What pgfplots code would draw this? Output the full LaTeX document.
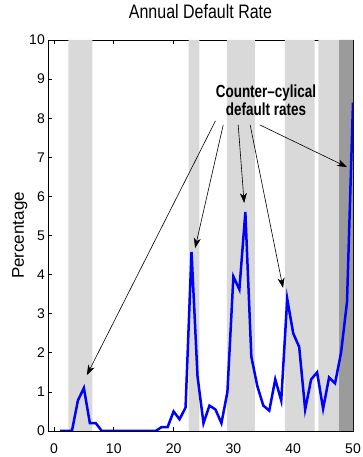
\documentclass[border=0pt]{standalone}
\usepackage{fontspec}
\setmainfont{Liberation Sans}
\newfontfamily\titlefont{Liberation Sans}[FakeStretch=0.82]
\newfontfamily\annfont{Liberation Sans}[FakeStretch=0.77]
\usepackage{pgfplots}
\pgfplotsset{compat=1.18}
\usetikzlibrary{arrows.meta}
\definecolor{lgray}{RGB}{217,217,217}
\definecolor{dgray}{RGB}{155,155,155}
\begin{document}
\begin{tikzpicture}
\useasboundingbox (-48bp,-26bp) rectangle (315bp,431bp);
\begin{axis}[
 at={(0,0)}, anchor=south west,
 scale only axis, width=305bp, height=391bp,
 xmin=-1, xmax=50, ymin=0, ymax=10,
 xtick={0,10,...,50}, ytick={0,1,...,10},
 tick align=inside, major tick length=4bp,
 axis line style={line width=0.8bp},
 every tick/.style={black, line width=0.6bp},
 tick label style={font=\fontsize{14bp}{16bp}\selectfont},
 /pgf/number format/assume math mode=true,
 yticklabel style={inner sep=0pt, xshift=-3bp},
 xticklabel style={anchor=base, inner sep=0pt, yshift=-22bp},
 title={Annual Default Rate},
 title style={font=\titlefont\fontsize{19.5bp}{22bp}\selectfont, at={(axis description cs:0.5,1.0409)}, anchor=base},
 ylabel={Percentage},
 ylabel style={font=\fontsize{17bp}{20bp}\selectfont, at={(axis description cs:-0.0787,0.5)}, anchor=base},
]
\addplot[fill=lgray, draw=none] coordinates {(2.4,0) (2.4,10) (6.4,10) (6.4,0)} \closedcycle;
\addplot[fill=lgray, draw=none] coordinates {(22.5,0) (22.5,10) (24.3,10) (24.3,0)} \closedcycle;
\addplot[fill=lgray, draw=none] coordinates {(28.9,0) (28.9,10) (33.6,10) (33.6,0)} \closedcycle;
\addplot[fill=lgray, draw=none] coordinates {(38.6,0) (38.6,10) (43.6,10) (43.6,0)} \closedcycle;
\addplot[fill=lgray, draw=none] coordinates {(44.2,0) (44.2,10) (47.7,10) (47.7,0)} \closedcycle;
\addplot[fill=dgray, draw=none] coordinates {(47.7,0) (47.7,10) (50,10) (50,0)} \closedcycle;
\addplot[blue, line width=2.5bp, mark=none] table {
x y
1 0
2 0
3 0
4 0.78
5 1.1
6 0.2
7 0.2
8 0
9 0
10 0
11 0
12 0
13 0
14 0
15 0
16 0
17 0
18 0.1
19 0.1
20 0.5
21 0.3
22 0.6
23 4.58
24 1.4
25 0.2
26 0.65
27 0.55
28 0.2
29 1.0
30 3.95
31 3.62
32 5.6
33 1.9
34 1.15
35 0.65
36 0.52
37 1.32
38 0.78
39 3.38
40 2.5
41 2.15
42 0.55
43 1.32
44 1.5
45 0.57
46 1.37
47 1.22
48 2.0
49 3.3
50 8.4
};
\draw[-{Stealth[length=10bp,width=7bp,inset=3bp]}, line width=0.6bp] (axis cs:27.0,7.93) -- (axis cs:5.5,1.43);
\draw[-{Stealth[length=10bp,width=7bp,inset=3bp]}, line width=0.6bp] (axis cs:28.3,7.83) -- (axis cs:23.6,4.68);
\draw[-{Stealth[length=10bp,width=7bp,inset=3bp]}, line width=0.6bp] (axis cs:30.8,7.83) -- (axis cs:31.8,5.83);
\draw[-{Stealth[length=10bp,width=7bp,inset=3bp]}, line width=0.6bp] (axis cs:32.8,7.83) -- (axis cs:38.3,3.66);
\draw[-{Stealth[length=10bp,width=7bp,inset=3bp]}, line width=0.6bp] (axis cs:34.4,7.83) -- (axis cs:49.0,6.75);
\node[font=\annfont\bfseries\fontsize{17.5bp}{18.5bp}\selectfont, align=center, anchor=north, inner sep=0pt] at (axis cs:35.45,8.87) {Counter–cylical\\default rates};
\end{axis}
\end{tikzpicture}
\end{document}
